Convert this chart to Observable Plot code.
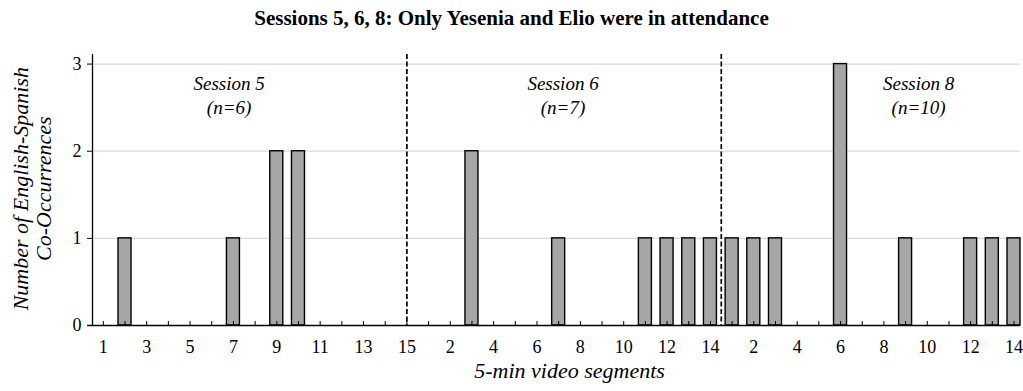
<!DOCTYPE html>
<html>
<head>
<meta charset="utf-8">
<script src="https://cdn.jsdelivr.net/npm/d3@7"></script>
<script src="https://cdn.jsdelivr.net/npm/@observablehq/plot@0.6"></script>
<style>
  html, body { margin: 0; padding: 0; background: #fff; }
  #title { height: 36px; line-height: 36px; text-align: center; font-family: "Liberation Serif", "Times New Roman", serif; font-weight: bold; font-size: 21px; color: #000; white-space: nowrap; }
  #chart svg { display: block; }
  #chart svg, #chart svg text, #chart svg g { font-family: "Liberation Serif", "Times New Roman", serif !important; }
</style>
</head>
<body>
<div id="title">Sessions 5, 6, 8: Only Yesenia and Elio were in attendance</div>
<div id="chart"></div>
<script>
const sessions = ["Session 5", "Session 6", "Session 8"];
const sessionN = ["(n=6)", "(n=7)", "(n=10)"];
const session5 = [0, 1, 0, 0, 0, 0, 1, 0, 2, 2, 0, 0, 0, 0, 0];
const session6 = [0, 0, 2, 0, 0, 0, 1, 0, 0, 0, 1, 1, 1, 1];
const session8 = [1, 1, 1, 0, 0, 3, 0, 0, 1, 0, 0, 1, 1, 1];
const labelParity = [1, 0, 0]; // session 5 labels odd segments, others even
const yTicks = [0, 1, 2, 3];

const seriesList = [session5, session6, session8];
const rows = [];
seriesList.forEach((vals, s) => {
  vals.forEach((v, j) => {
    rows.push({session: sessions[s], s, segment: j + 1, value: v, index: rows.length});
  });
});
// session dividers: at last segment of session 5, and between sessions 6 and 8
const end5 = session5.length - 1;
const end6 = session5.length + session6.length - 1;
const dividers = [end5, end6 + 0.5];
// session annotation positions (index units)
const annot = [
  {text: sessions[0] + "\n" + sessionN[0], x: 5.8},
  {text: sessions[1] + "\n" + sessionN[1], x: 21.2},
  {text: sessions[2] + "\n" + sessionN[2], x: 37.6}
];
const bw = 0.3;
const bars = rows.filter(d => d.value > 0);
const serif = "'Liberation Serif', 'Times New Roman', serif";

const chart = Plot.plot({
  width: 1023,
  height: 355,
  marginTop: 18,
  marginBottom: 66,
  marginLeft: 92,
  marginRight: 3,
  style: {fontFamily: serif, fontSize: "18px", color: "#000", background: "#fff"},
  x: {domain: [-0.5, 42.3], label: null},
  y: {domain: [0, 3.11], label: null},
  marks: [
    Plot.gridY(yTicks.filter(t => t > 0), {stroke: "#d9d9d9", strokeOpacity: 1, strokeWidth: 1.3}),
    Plot.rectY(bars, {x1: d => d.index - bw, x2: d => d.index + bw, y1: 0, y2: "value", fill: "#a6a6a6", stroke: "#000", strokeWidth: 1.4}),
    Plot.ruleX(dividers, {stroke: "#000", strokeWidth: 1.7, strokeDasharray: "5,2.5"}),
    Plot.ruleX([-0.5], {stroke: "#000", strokeWidth: 1.3}),
    Plot.ruleY([0], {stroke: "#000", strokeWidth: 1.3, insetLeft: -5}),
    Plot.axisY({ticks: yTicks, tickFormat: "d", tickSize: 5, tickPadding: 6, fontSize: 18, fontFamily: serif, label: null}),
    Plot.axisX({
      ticks: rows.map(d => d.index),
      tickFormat: i => { const r = rows[i]; return (r.segment % 2 === labelParity[r.s]) ? String(r.segment) : ""; },
      tickSize: -4, tickPadding: 19, fontSize: 18, fontFamily: serif, label: null
    }),
    Plot.text(annot, {x: "x", y: 2.655, text: "text", lineAnchor: "middle", lineHeight: 1.26, fontStyle: "italic", fontSize: 19, fontFamily: serif}),
    Plot.text(["5-min video segments"], {frameAnchor: "bottom", dy: 52, x: 21.5, fontStyle: "italic", fontSize: 22, fontFamily: serif}),
    Plot.text(["Number of English-Spanish\nCo-Occurrences"], {frameAnchor: "left", dx: -60, rotate: -90, textAnchor: "middle", fontStyle: "italic", fontSize: 22, fontFamily: serif, lineHeight: 1.05, y: 1.57})
  ]
});
document.getElementById("chart").appendChild(chart);
</script>
</body>
</html>
